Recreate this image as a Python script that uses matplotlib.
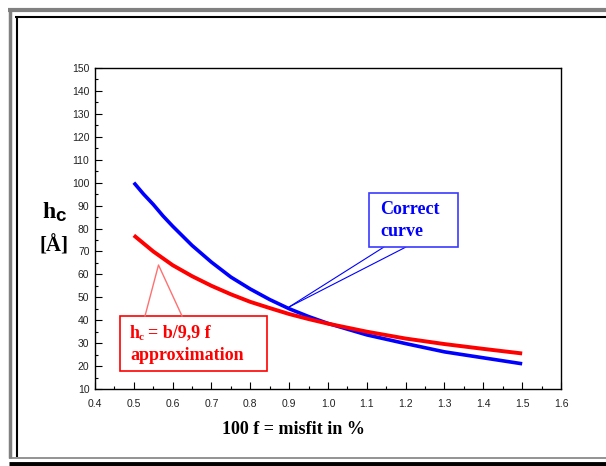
import numpy as np
import matplotlib
matplotlib.use("Agg")
import matplotlib.pyplot as plt
from matplotlib.lines import Line2D
from matplotlib.ticker import MultipleLocator

## data
misfit = [0.5, 0.525, 0.55, 0.575, 0.6, 0.65, 0.7, 0.75, 0.8, 0.85, 0.9, 0.95, 1.0, 1.1, 1.2, 1.3, 1.4, 1.5]
hc_correct = [100, 95, 90.5, 85.5, 81, 72.6, 65.3, 58.8, 53.6, 49.0, 45.0, 41.6, 38.6, 33.6, 29.8, 26.2, 23.6, 21.0]
hc_approx = [77, 73.5, 70, 67, 64, 59.2, 55, 51.3, 48, 45.3, 42.7, 40.5, 38.5, 35, 32, 29.6, 27.5, 25.5]

xticks = np.arange(0.4, 1.61, 0.1)
yticks = np.arange(10, 151, 10)

W, H = 606, 466
fig = plt.figure(figsize=(W/100, H/100), dpi=100)
plt.rcParams["font.family"] = "Liberation Sans"

def fx(px): return px / W
def fy(py): return 1 - py / H

# frame around the slide
def fline(x0, y0, x1, y1, c, lw):
    fig.add_artist(Line2D([fx(x0), fx(x1)], [fy(y0), fy(y1)], color=c, lw=lw,
                          transform=fig.transFigure, solid_capstyle='butt'))
fline(8, 9.5, 606, 9.5, '#808080', 3)
fline(9.5, 8, 9.5, 458, '#808080', 2.5)
fline(15, 16.5, 606, 16.5, 'black', 1.5)
fline(16.5, 16, 16.5, 457, 'black', 1.5)
fline(9, 457.5, 606, 457.5, '#808080', 1.2)
fline(9, 464, 606, 464, 'black', 3.5)

ax = fig.add_axes([fx(95), fy(389), fx(561) - fx(95), fy(68) - fy(389)])
ax.plot(misfit, hc_correct, color='#0000ff', lw=2.6, solid_capstyle='butt')
ax.plot(misfit, hc_approx, color='#ff0000', lw=2.8, solid_capstyle='butt')

ax.set_xlim(0.4, 1.6)
ax.set_ylim(10, 150)
ax.set_xticks(xticks)
ax.set_yticks(yticks)
ax.set_xticklabels(['%.1f' % v for v in xticks])
ax.xaxis.set_minor_locator(MultipleLocator(0.05))
ax.yaxis.set_minor_locator(MultipleLocator(5))
ax.tick_params(which='both', direction='in', top=False, right=False,
               labelsize=7.5, labelcolor='#222222', width=0.8)
ax.tick_params(which='major', length=5)
ax.tick_params(which='minor', length=2.5)
ax.tick_params(axis='x', pad=7)
ax.tick_params(axis='y', pad=4)
for s in ax.spines.values():
    s.set_linewidth(1.0)

# axis titles
fig.text(fx(294), fy(429), '100 f = misfit in %', family='Liberation Serif',
         weight='bold', fontsize=13, ha='center', va='center')
fig.text(fx(42), fy(212), 'h', family='Liberation Serif', weight='bold',
         fontsize=17, ha='left', va='center')
fig.text(fx(55.5), fy(216), 'c', family='Liberation Sans', weight='bold',
         fontsize=13.5, ha='left', va='center')
fig.text(fx(54), fy(246), '[Å]', family='Liberation Serif', weight='bold',
         fontsize=15, ha='center', va='center')

# callout for the correct curve
for xb in (384, 406):
    ax.annotate('', xy=(0.9, 45.8), xycoords='data', xytext=(fx(xb), fy(247)),
                textcoords='figure fraction',
                arrowprops=dict(arrowstyle='-', color='#0000ff', lw=0.8, shrinkA=0, shrinkB=0))
fig.patches.append(plt.Rectangle((fx(369), fy(247)), fx(458) - fx(369), fy(193) - fy(247),
                                 transform=fig.transFigure, fill=True, facecolor='white',
                                 edgecolor='#3a3aff', lw=1.2))
fig.text(fx(380), fy(209), 'Correct', family='Liberation Serif', weight='bold',
         fontsize=13, color='#0000ff', ha='left', va='center')
fig.text(fx(380), fy(231), 'curve', family='Liberation Serif', weight='bold',
         fontsize=13, color='#0000ff', ha='left', va='center')

# callout for the approximation
fig.add_artist(Line2D([fx(145), fx(158.5), fx(182)], [fy(316), fy(265), fy(316)],
                      color='#ff7070', lw=1.0, transform=fig.transFigure))
fig.patches.append(plt.Rectangle((fx(120), fy(371)), fx(267) - fx(120), fy(316) - fy(371),
                                 transform=fig.transFigure, fill=True, facecolor='white',
                                 edgecolor='#ff0000', lw=1.2))
fig.text(fx(130), fy(333), 'h', family='Liberation Serif', weight='bold',
         fontsize=13, color='#ff0000', ha='left', va='center')
fig.text(fx(139), fy(337), 'c', family='Liberation Serif', weight='bold',
         fontsize=8, color='#ff0000', ha='left', va='center')
fig.text(fx(148), fy(333), '= b/9,9 f', family='Liberation Serif', weight='bold',
         fontsize=13, color='#ff0000', ha='left', va='center')
fig.text(fx(130), fy(355), 'approximation', family='Liberation Serif', weight='bold',
         fontsize=13, color='#ff0000', ha='left', va='center')

fig.savefig('out.png', dpi=100)
